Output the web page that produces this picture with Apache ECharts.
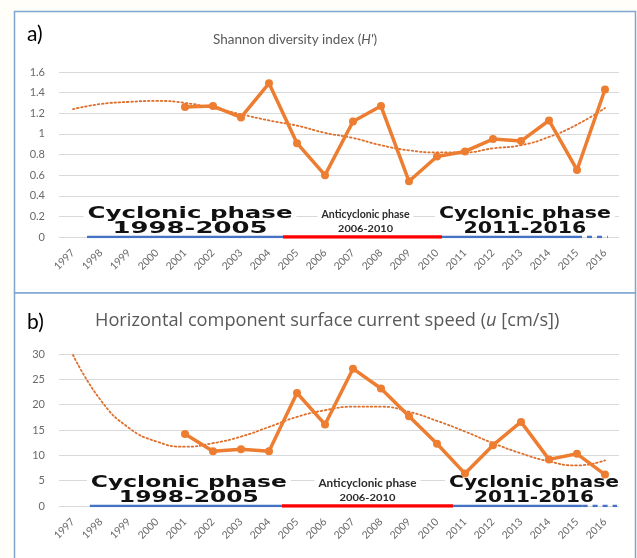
<!DOCTYPE html>
<html>
<head>
<meta charset="utf-8">
<script src="https://cdn.jsdelivr.net/npm/echarts@6/dist/echarts.min.js"></script>
<style>
  html, body { margin: 0; padding: 0; background: #fffef8; }
  #chart { width: 637px; height: 558px; }
</style>
</head>
<body>
<div id="chart"></div>
<script>
// Survey years (one category per year)
const years = ['1997', '1998', '1999', '2000', '2001', '2002', '2003', '2004', '2005', '2006',
               '2007', '2008', '2009', '2010', '2011', '2012', '2013', '2014', '2015', '2016'];

// a) Shannon diversity index H' (no sampling before 2001)
const shannonIndex = [null, null, null, null, 1.26, 1.27, 1.16, 1.49, 0.91, 0.60,
                      1.12, 1.27, 0.54, 0.78, 0.83, 0.95, 0.93, 1.13, 0.65, 1.43];
// polynomial trend of H'
const shannonTrend = [1.24, 1.29, 1.31, 1.32, 1.30, 1.25, 1.19, 1.13, 1.08, 1.01,
                      0.96, 0.89, 0.84, 0.82, 0.82, 0.86, 0.89, 0.97, 1.09, 1.25];

// b) horizontal component of surface current speed u [cm/s]
const currentSpeed = [null, null, null, null, 14.2, 10.8, 11.2, 10.8, 22.3, 16.1,
                      27.1, 23.2, 17.7, 12.3, 6.4, 12.0, 16.6, 9.2, 10.3, 6.2];
// polynomial trend of u
const currentTrend = [29.8, 20.8, 15.4, 12.7, 11.7, 12.4, 13.7, 15.6, 17.6, 18.9,
                      19.6, 19.6, 18.6, 16.8, 14.7, 12.4, 10.4, 8.8, 8.0, 9.0];

// y-axis ranges
const shannonAxis = { min: 0, max: 1.6, interval: 0.2 };
const currentAxis = { min: 0, max: 30, interval: 5 };

// circulation phases
const phases = [
  { name: 'Cyclonic phase', years: '1998-2005', kind: 'cyclonic' },
  { name: 'Anticyclonic phase', years: '2006-2010', kind: 'anticyclonic' },
  { name: 'Cyclonic phase', years: '2011-2016', kind: 'cyclonic' }
];

// phase bars along the zero line: [from year, to year, phase index, dashed]
const phaseBarsA = [
  [1997.5, 2004.5, 0, false],
  [2004.5, 2010.18, 1, false],
  [2010.18, 2015.0, 2, false],
  [2015.0, 2016.1, 2, true]
];
const phaseBarsB = [
  [1997.6, 2004.46, 0, false],
  [2004.46, 2010.57, 1, false],
  [2010.57, 2015.2, 2, false],
  [2015.2, 2016.43, 2, true]
];

// ---- styling ----
const ORANGE = '#ED7D31';
const GREY_TEXT = '#595959';
const GRID_LINE = '#d9d9d9';
const PHASE_COLORS = { cyclonic: '#4472C4', anticyclonic: '#FF0000' };
// label layout per panel: rendered widths of the two lines, horizontal nudge in px
const labelLayoutA = { widths: [[205, 155], [88, 55], [172, 123]], dx: [5, 3, 0] };
const labelLayoutB = { widths: [[196, 140], [98, 56], [170, 120]], dx: [3, 0, -1] };

const measureCtx = document.createElement('canvas').getContext('2d');
function textWidth(text, font) {
  measureCtx.font = font;
  return measureCtx.measureText(text).width;
}

// label anchor for each phase: middle of its drawn bar extent
function phaseCenters(bars) {
  return phases.map(function (p, i) {
    const own = bars.filter(function (b) { return b[2] === i; });
    const from = Math.min.apply(null, own.map(function (b) { return b[0]; }));
    const to = Math.max.apply(null, own.map(function (b) { return b[1]; }));
    return [(from + to) / 2, 0];
  });
}

function labelRenderer(layout) {
  return function (params, api) {
    const i = params.dataIndex;
    const ph = phases[i];
    const w = layout.widths[i];
    const p = api.coord([api.value(0), api.value(1)]);
    const cx = p[0] + layout.dx[i];
    const big = ph.kind === 'cyclonic';
    const font1 = big ? 'bold 15px "DejaVu Sans"' : 'bold 11px Lato';
    const font2 = big ? 'bold 15px "DejaVu Sans"' : 'bold 10px Lato';
    const s1 = w[0] / textWidth(ph.name, font1);
    const s2 = w[1] / textWidth(ph.years, font2);
    const y1 = p[1] - 23;
    const y2 = p[1] - 8;
    const boxW = Math.max(w[0], w[1]) + 8;
    const color = big ? '#111111' : '#2b2b2b';
    return {
      type: 'group',
      children: [
        { type: 'rect', shape: { x: cx - boxW / 2, y: y1 - 10, width: boxW, height: y2 + 7 - (y1 - 10) },
          style: { fill: '#ffffff' } },
        { type: 'text', x: cx, y: y1, scaleX: s1,
          style: { text: ph.name, font: font1, fill: color, align: 'center', verticalAlign: 'middle',
                   textAlign: 'center', textVerticalAlign: 'middle' } },
        { type: 'text', x: cx, y: y2, scaleX: s2,
          style: { text: ph.years, font: font2, fill: color, align: 'center', verticalAlign: 'middle',
                   textAlign: 'center', textVerticalAlign: 'middle' } }
      ]
    };
  };
}

function phaseBarSeries(bars, xIdx, yIdx) {
  return bars.map(function (b) {
    const kind = phases[b[2]].kind;
    return {
      type: 'line', xAxisIndex: xIdx, yAxisIndex: yIdx, silent: true, z: 6,
      data: [[b[0], 0], [b[1], 0]], symbol: 'none',
      lineStyle: { color: PHASE_COLORS[kind], width: kind === 'anticyclonic' ? 3.5 : 2.5,
                   type: b[3] ? [5, 5] : 'solid', cap: 'butt' }
    };
  });
}

function categoryAxis(gridIndex) {
  return {
    type: 'category', gridIndex: gridIndex, data: years, boundaryGap: true,
    axisLine: { show: false }, axisTick: { show: false },
    axisLabel: { interval: 0, rotate: 45, color: '#6a6a6a', fontSize: 10.5, fontFamily: 'Lato', margin: 14 }
  };
}
function hiddenYearAxis(gridIndex) {
  return { type: 'value', gridIndex: gridIndex, min: 1996.5, max: 2016.5, show: false,
           splitLine: { show: false } };
}
function valueAxis(gridIndex, range) {
  return {
    type: 'value', gridIndex: gridIndex, min: range.min, max: range.max, interval: range.interval,
    axisLine: { show: false }, axisTick: { show: false },
    axisLabel: { color: '#6a6a6a', fontSize: 11, fontFamily: 'Lato', margin: 14 },
    splitLine: { lineStyle: { color: GRID_LINE, width: 1 } }
  };
}

function dataSeries(values, xIdx, yIdx) {
  return {
    type: 'line', xAxisIndex: xIdx, yAxisIndex: yIdx, data: values, z: 8,
    symbol: 'circle', symbolSize: 8, connectNulls: false,
    itemStyle: { color: ORANGE },
    lineStyle: { color: ORANGE, width: 3.5, cap: 'round', join: 'round' }
  };
}
function trendSeries(values, xIdx, yIdx) {
  return {
    type: 'line', xAxisIndex: xIdx, yAxisIndex: yIdx, data: values, z: 4,
    smooth: true, symbol: 'none',
    lineStyle: { color: '#DE6E2C', width: 1.8, type: [1.6, 2.6], cap: 'round' }
  };
}

const chart = echarts.init(document.getElementById('chart'), null, { renderer: 'canvas' });

function titleStyle(size, family) {
  return { fontSize: size, fontWeight: 'normal', color: GREY_TEXT, fontFamily: family,
           rich: { i: { fontSize: size, fontStyle: 'italic', color: GREY_TEXT, fontFamily: family } } };
}
const panelLetterStyle = { fontSize: 21, fontWeight: 'normal', color: '#000', fontFamily: 'Lato' };

chart.setOption({
  animation: false,
  backgroundColor: '#fffef8',
  graphic: [
    { type: 'rect', z: -100, silent: true, shape: { x: 14.5, y: 11.5, width: 621, height: 281.5 },
      style: { fill: '#ffffff', stroke: '#7ea6cf', lineWidth: 1.5 } },
    { type: 'rect', z: -100, silent: true, shape: { x: 14.5, y: 293, width: 621, height: 272 },
      style: { fill: '#ffffff', stroke: '#7ea6cf', lineWidth: 1.5 } }
  ],
  title: [
    { text: 'a)', left: 27, top: 24, padding: 0, textStyle: panelLetterStyle },
    { text: "Shannon diversity index ({i|H'})", left: 213, top: 33, padding: 0, textStyle: titleStyle(13.5, 'Lato') },
    { text: 'b)', left: 27, top: 312, padding: 0, textStyle: panelLetterStyle },
    { text: 'Horizontal component surface current speed ({i|u} [cm/s])', left: 95, top: 312, padding: 0,
      textStyle: titleStyle(18.2, 'Open Sans') }
  ],
  grid: [
    { left: 59, right: 18, top: 72, height: 165 },
    { left: 59, right: 18, top: 354, height: 152 }
  ],
  xAxis: [categoryAxis(0), hiddenYearAxis(0), categoryAxis(1), hiddenYearAxis(1)],
  yAxis: [valueAxis(0, shannonAxis), valueAxis(1, currentAxis)],
  series: [
    trendSeries(shannonTrend, 0, 0),
    dataSeries(shannonIndex, 0, 0),
    { type: 'custom', xAxisIndex: 1, yAxisIndex: 0, z: 3, silent: true, clip: false,
      data: phaseCenters(phaseBarsA), renderItem: labelRenderer(labelLayoutA) },
    trendSeries(currentTrend, 2, 1),
    dataSeries(currentSpeed, 2, 1),
    { type: 'custom', xAxisIndex: 3, yAxisIndex: 1, z: 3, silent: true, clip: false,
      data: phaseCenters(phaseBarsB), renderItem: labelRenderer(labelLayoutB) }
  ].concat(phaseBarSeries(phaseBarsA, 1, 0), phaseBarSeries(phaseBarsB, 3, 1))
});
</script>
</body>
</html>
